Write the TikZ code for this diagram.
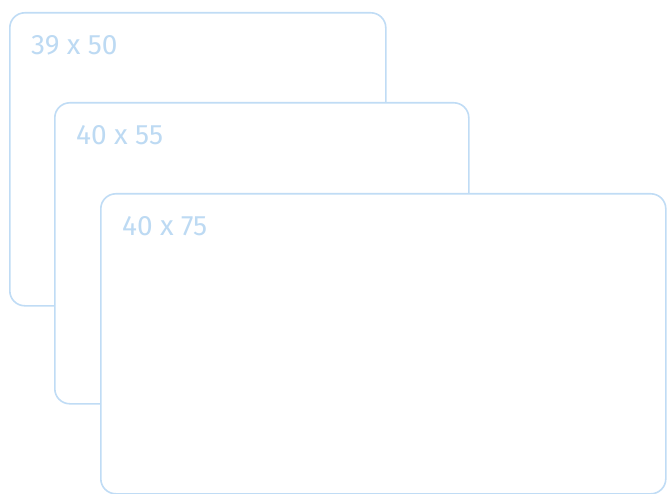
\documentclass[tikz,border=0pt]{standalone}
\usepackage{fontspec}
\setmainfont{Fira Sans}
\usepackage{xcolor}
\usetikzlibrary{positioning}
\definecolor{cardline}{HTML}{C0DCF5}
\definecolor{cardtext}{HTML}{BDDAF3}
\tikzset{
  card/.style={draw=cardline, fill=white, rounded corners=15pt, line width=1.6pt,
               inner sep=0pt, anchor=north west},
  dimlabel/.style={text=cardtext, font=\fontsize{28}{32}\selectfont,
                   inner sep=0pt, anchor=base west},
}

\begin{document}
\begin{tikzpicture}[x=1pt, y=-1pt]
  \useasboundingbox (0,0) rectangle (669,494);

  % back card
  \node[card, minimum width=376pt, minimum height=293pt] (cardA) at (9,12) {};
  \node[dimlabel] (labelA) at (31,55) {39 x 50};

  % middle card
  \node[card, minimum width=414pt, minimum height=301pt] (cardB) at (54,102) {};
  \node[dimlabel] (labelB) at (76,145) {40 x 55};

  % front card
  \node[card, minimum width=565pt, minimum height=300pt] (cardC) at (100,193) {};
  \node[dimlabel] (labelC) at (122,236) {40 x 75};
\end{tikzpicture}
\end{document}
